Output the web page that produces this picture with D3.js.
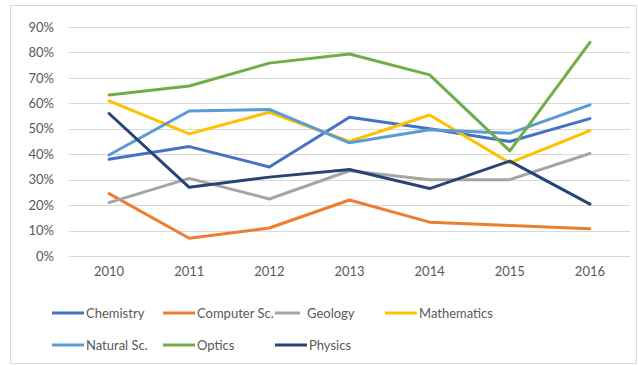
<!DOCTYPE html>
<html><head><meta charset="utf-8">
<script src="https://cdn.jsdelivr.net/npm/d3@7"></script>
<style>body{margin:0;background:#fff}svg{display:block}</style>
</head><body>
<svg id="c" width="638" height="365"></svg>
<script>
const years = ["2010","2011","2012","2013","2014","2015","2016"];
const yTicks = [0,10,20,30,40,50,60,70,80,90];
const seriesNames = ["Chemistry","Computer Sc.","Geology","Mathematics","Natural Sc.","Optics","Physics"];
const seriesColors = ["#4472C4","#ED7D31","#A5A5A5","#FFC000","#5B9BD5","#70AD47","#264478"];
const chemistry   = [38, 43, 35, 54.5, 50, 45, 54];
const computerSc  = [24.5, 7, 11, 22, 13.3, 12, 10.7];
const geology     = [21, 30.5, 22.4, 33.5, 30, 30, 40.3];
const mathematics = [61, 48, 56.5, 45, 55.4, 36.6, 49.3];
const naturalSc   = [39.7, 57, 57.6, 44.5, 49.6, 48.2, 59.4];
const optics      = [63.3, 66.8, 75.8, 79.4, 71.2, 41.3, 84];
const physics     = [56, 27, 31, 34, 26.5, 37.3, 20.4];
const seriesValues = [chemistry, computerSc, geology, mathematics, naturalSc, optics, physics];

const svg = d3.select("#c");
const font = "Lato, 'Open Sans', sans-serif";
svg.append("rect").attr("x",10.5).attr("y",5.5).attr("width",626).attr("height",358)
  .attr("fill","#fff").attr("stroke","#d9d9d9");

const x = d3.scaleBand().domain(years).range([69,630]);
const y = d3.scaleLinear().domain([0,90]).range([256,27]);

// gridlines
svg.append("g").selectAll("line").data(yTicks).join("line")
  .attr("x1",69).attr("x2",630)
  .attr("y1",d=>Math.round(y(d))+0.5).attr("y2",d=>Math.round(y(d))+0.5)
  .attr("stroke","#d9d9d9").attr("stroke-width",1);

// y axis
const ya = svg.append("g").attr("transform","translate(60,0)")
  .call(d3.axisLeft(y).tickValues(yTicks).tickFormat(d=>d+"%").tickSize(0).tickPadding(6));
ya.select(".domain").remove();
ya.selectAll("text").attr("fill","#595959").style("font-family",font).style("font-size","13px");

// x axis
const xa = svg.append("g").attr("transform","translate(0,264)")
  .call(d3.axisBottom(x).tickSize(0).tickPadding(3));
xa.select(".domain").remove();
xa.selectAll("text").attr("fill","#595959").style("font-family",font).style("font-size","13px");

const line = d3.line().x((d,i)=>x(years[i])+x.bandwidth()/2).y(d=>y(d));
svg.append("g").selectAll("path").data(seriesValues).join("path")
  .attr("d",d=>line(d)).attr("fill","none")
  .attr("stroke",(d,i)=>seriesColors[i]).attr("stroke-width",3)
  .attr("stroke-linejoin","round").attr("stroke-linecap","round");

// legend
const legX = [52,163,275,385];
const legY = [313,345];
const lg = svg.append("g").selectAll("g").data(seriesNames).join("g")
  .attr("transform",(d,i)=>`translate(${legX[i%4]},${legY[Math.floor(i/4)]})`);
lg.append("line").attr("x1",0).attr("x2",(d,i)=>i===2?25:32).attr("y1",0).attr("y2",0)
  .attr("stroke",(d,i)=>seriesColors[i]).attr("stroke-width",3);
lg.append("text").attr("x",(d,i)=>i===2?32:34).attr("y",0).attr("dy","0.35em")
  .attr("fill","#595959").style("font-family",font).style("font-size","13px").text(d=>d);
</script>
</body></html>
